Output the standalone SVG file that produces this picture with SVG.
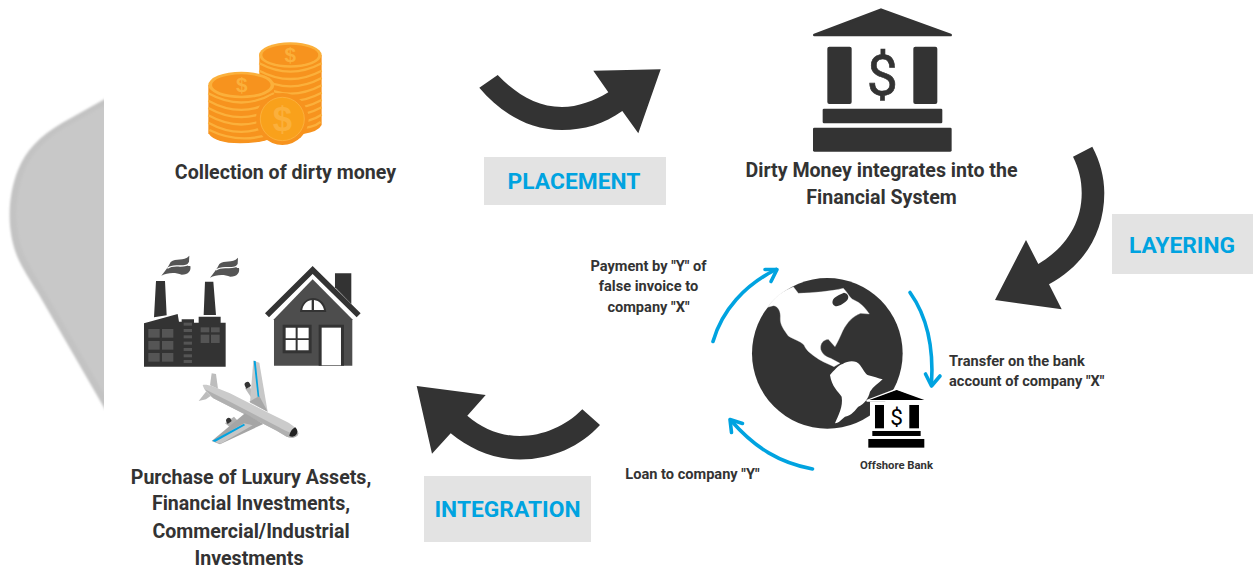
<svg xmlns="http://www.w3.org/2000/svg" width="1253" height="572" viewBox="0 0 1253 572">
<defs>
<filter id="soft" x="-10%" y="-10%" width="120%" height="120%"><feGaussianBlur stdDeviation="1.200"/></filter>
<clipPath id="trayclip"><rect x="0" y="80" width="104" height="340"/></clipPath>
</defs>
<style>
text{font-family:Roboto,"Liberation Sans",sans-serif;font-weight:700;fill:#333;text-anchor:middle}
.t{font-size:19.6px}
.s{font-size:14.600px}
.l{text-anchor:start}
.b{font-size:22.800px;fill:#00a3e0}
.box{fill:#e3e3e3}
.big{fill:#333}
.blue{fill:none;stroke:#00a3e0;stroke-width:3.6;stroke-linecap:round;stroke-linejoin:round}
.d{fill:#333}
.w{fill:#555}
.c1{fill:#f7931e}
.c3{fill:#f9a11b}
.rim{fill:none;stroke:#fbb03b;stroke-width:7}
.dl{font-family:"Liberation Sans",sans-serif;font-weight:700}
</style>

<g id="tray-shape" clip-path="url(#trayclip)">
<path d="M110 96L62 123C40 136 26 150 18 170C8 195 6 228 17 256C22 268 30 280 38 293L110 418Z" fill="#c3c3c3" filter="url(#soft)"/>
<path d="M110 102L66 127C46 139 31 153 24 172C15 196 13 226 23 252C28 264 36 277 44 290L110 404Z" fill="#c8c8c8" filter="url(#soft)"/>
</g>

<g id="coins" transform="translate(190 30) scale(.3333)">
<path class="c1" d="M208 75H395V285Q385 305 340 312H208Z"/>
<g class="rim">
<path d="M208 100Q301 150 395 100"/><path d="M208 122Q301 172 395 122"/><path d="M208 144Q301 194 395 144"/><path d="M208 166Q301 216 395 166"/><path d="M208 188Q301 238 395 188"/><path d="M208 210Q301 260 395 210"/><path d="M208 232Q301 282 395 232"/><path d="M250 270Q340 290 395 254"/><path d="M320 295Q370 295 392 276"/>
</g>
<ellipse cx="301" cy="75" rx="94" ry="38" fill="#fbb03b"/>
<ellipse class="c1" cx="301" cy="75" rx="84" ry="31"/>
<text class="dl" x="301" y="97" font-size="62" style="fill:#fbb03b">$</text>
<path class="c1" d="M55 165H252V320Q220 340 150 340Q75 340 55 310Z"/>
<g class="rim">
<path d="M55 190Q154 245 252 190"/><path d="M55 212Q154 267 252 212"/><path d="M55 234Q154 289 252 234"/><path d="M55 256Q154 311 252 256"/><path d="M55 278Q154 333 252 278"/><path d="M58 300Q150 345 245 310"/>
</g>
<ellipse cx="154" cy="165" rx="99" ry="40" fill="#fbb03b"/>
<ellipse class="c1" cx="154" cy="165" rx="88" ry="32"/>
<text class="dl" x="155" y="187" font-size="62" style="fill:#fbb03b">$</text>
<ellipse class="c1" cx="277" cy="267" rx="79" ry="78"/>
<ellipse class="c3" cx="277" cy="267" rx="66" ry="65" stroke="#fbb03b" stroke-width="3"/>
<text class="dl" x="277" y="304" font-size="104" style="fill:#fbb03b">$</text>
</g>

<g id="collection-label"><text class="t" x="285.500" y="179">Collection of dirty money</text></g>

<g id="bank" transform="translate(800 0) scale(.3333)">
<path class="d" stroke="#333" stroke-width="8" stroke-linejoin="round" d="M43 105L243 29L452 105Z"/>
<rect class="d" x="82" y="140" width="73" height="172" rx="6"/>
<rect class="d" x="340" y="140" width="72" height="172" rx="6"/>
<rect class="d" x="68" y="326" width="359" height="44" rx="4"/>
<rect class="d" x="39" y="383" width="416" height="72" rx="4"/>
<text x="247" y="284" font-size="166" style="font-family:Roboto,sans-serif;font-weight:400" stroke="#333" stroke-width="2">$</text>
</g>

<g id="financial-label"><text class="t" x="881.500" y="177">Dirty Money integrates into the</text><text class="t" x="881.500" y="204">Financial System</text></g>

<g id="placement-box"><rect class="box" x="484" y="157" width="182" height="48"/><text class="b" x="574" y="189">PLACEMENT</text></g>
<g id="layering-box"><rect class="box" x="1112" y="214" width="141" height="60"/><text class="b" x="1182" y="253">LAYERING</text></g>
<g id="integration-box"><rect class="box" x="424" y="476" width="167" height="66"/><text class="b" x="507.500" y="517">INTEGRATION</text></g>

<g id="connectors">
<path class="big" d="M479.300 87.700L497.700 75C516 94 537 107 562 107C578 107 594 101 608.300 92.300L593.300 70.700L660.700 69.300L638.300 133.300L622.300 111C604 124 584 130 562 130C527 130 500 112 479.300 87.700Z"/>
<path class="big" d="M1092.300 146.700L1073 156.700C1079 169 1081.700 180 1081.700 193C1081.700 224 1065 248 1038.300 264L1026 240L995 300L1061.700 309.300L1049 284.300C1083 266 1104.300 234 1104.300 193C1104.300 177 1100 161 1092.300 146.700Z"/>
<path class="big" d="M582.300 409.300L600 425C581 446 552 459.500 520 459.500C493 459.500 470 449 450.700 433.300L432 453.700L416.700 386L485.700 395L467.300 415.700C483 429 500 436 520 436C543 436 566 426 582.300 409.300Z"/>
<g class="blue">
<path d="M713 341.500C722 310 745 285 776 269.500"/><path d="M765 269.500L777 269.500L771 281.500"/>
<path d="M910 292.500C926 315 934 345 931.500 384"/><path d="M925.500 374L931.500 386L940 376"/>
<path d="M812.500 469C780 463 755 448 731.500 421"/><path d="M742.500 423.500L730 419.500L731.500 432.500"/>
</g>
</g>

<g id="globe" transform="translate(700 250) scale(.3333)">
<circle cx="382" cy="310" r="226" fill="#333"/>
<path fill="#fff" stroke="#e8e8e8" stroke-width="1" d="M203 172C222 142 250 122 280 110L295 130C340 128 390 125 430 115C445 130 450 146 462 150C482 158 498 176 508 192L482 190C458 200 443 215 428 243C420 262 412 278 405 290L385 268C370 270 360 280 362 298C366 312 380 322 392 325L420 340L402 350C380 340 360 332 345 320C328 308 318 300 312 285C300 272 280 268 265 258C252 240 240 225 241 205C243 185 235 168 220 167Z"/>
<path class="d" d="M398 152C402 140 420 134 432 128C445 130 448 142 442 150C435 158 415 172 405 168C398 165 396 158 398 152Z"/>
<path fill="#fff" d="M390 375C402 362 415 345 428 342C445 332 468 330 480 345C490 358 495 372 505 376C520 380 535 385 548 388C535 400 520 410 510 425C505 445 495 460 475 470C465 480 458 495 435 500C425 508 418 518 405 520C415 495 430 470 425 440C415 425 395 410 390 375Z"/>
</g>

<g id="offshore-bank" transform="translate(700 250) scale(.3333)">
<path fill="#000" stroke="#fff" stroke-width="6" stroke-linejoin="round" d="M502 452L590 418L678 452Z"/>
<rect x="510" y="455" width="160" height="145" fill="#fff"/>
<path fill="#000" d="M508 450L590 420L673 450Z"/>
<rect x="525" y="465" width="27" height="70"/>
<rect x="628" y="465" width="29" height="70"/>
<rect x="517" y="543" width="145" height="15"/>
<rect x="505" y="567" width="168" height="26"/>
<text x="590" y="526" font-size="68" style="font-family:Roboto,sans-serif;font-weight:400;fill:#000">$</text>
</g>

<g id="offshore-label"><text x="896.500" y="469" font-size="11.300">Offshore Bank</text></g>
<g id="payment-label"><text class="s" x="648.500" y="271">Payment by "Y" of</text><text class="s" x="648.500" y="291">false invoice to</text><text class="s" x="648.500" y="312">company "X"</text></g>
<g id="transfer-label"><text class="s l" x="949" y="366">Transfer on the bank</text><text class="s l" x="949" y="386">account of company "X"</text></g>
<g id="loan-label"><text class="s" x="692.500" y="479">Loan to company "Y"</text></g>

<g id="factory" transform="translate(130 240) scale(.3333)">
<path class="d" d="M78 123H105L110 226L72 232ZM225 125H250L258 225H221Z"/>
<path class="d" d="M42 250L143 222L147 245H155V238H192V248H206V230H272V248H287V380H42Z"/>
<g class="w">
<rect x="55" y="267" width="34" height="26"/><rect x="96" y="267" width="34" height="26"/><rect x="55" y="303" width="34" height="26"/><rect x="96" y="303" width="34" height="26"/><rect x="55" y="339" width="34" height="26"/><rect x="96" y="339" width="34" height="26"/>
<rect x="212" y="262" width="26" height="15"/><rect x="243" y="262" width="26" height="15"/><rect x="212" y="284" width="26" height="25"/><rect x="243" y="284" width="26" height="25"/>
<rect x="161" y="248" width="25" height="9"/><rect x="161" y="267" width="25" height="9"/><rect x="161" y="286" width="25" height="9"/><rect x="161" y="305" width="25" height="9"/><rect x="161" y="324" width="25" height="9"/><rect x="161" y="343" width="25" height="9"/><rect x="161" y="360" width="25" height="9"/>
<path d="M94 107C106 92 114 82 122 66C138 52 160 66 178 47L177 66C170 72 172 80 181 78C184 92 176 104 155 104C135 96 112 98 94 107Z"/>
<path d="M240 113C252 98 260 88 268 72C284 58 306 72 324 53L323 72C316 78 318 86 327 84C330 98 322 110 301 110C281 102 258 104 240 113Z"/>
</g>
<g fill="none" stroke="#fff" stroke-width="4">
<path d="M112 85C135 68 155 88 182 70"/><path d="M258 90C281 73 301 93 328 75"/>
</g>
</g>

<g id="house" transform="translate(130 240) scale(.3333)">
<path fill="#333" d="M615 100H664V192L615 142Z"/>
<path fill="#4d4d4d" d="M432 238L548 118L667 238V377H432Z"/>
<path fill="none" stroke="#333" stroke-width="17" d="M411 226L548 90L686 226"/>
<path fill="#333" d="M566 254H642V377H566ZM458 254H545V340H458Z"/>
<rect x="575" y="263" width="58" height="113" fill="#fff"/>
<path fill="#fff" d="M467 263H497V295H467ZM503 263H536V295H503ZM467 300H497V331H467ZM503 300H536V331H503Z"/>
<path fill="#333" d="M510 216C512 190 530 174 549 174C570 174 587 190 589 216Z"/>
<path fill="#fff" d="M517 210C519 194 530 182 545 180V210ZM552 180C568 182 579 194 582 210H552Z"/>
</g>

<g id="plane" transform="translate(130 240) scale(.3333)">
<path fill="#bbb" d="M345 445L360 440L372 470L362 470Z"/>
<path fill="#333" d="M345 438a8 8 0 0 1 14 -8l4 8l-14 8Z"/>
<path fill="#b0b0b0" d="M285 550L312 530L330 550L300 562Z"/>
<path fill="#333" d="M289 545a8 8 0 0 1 12 -10l4 8l-12 9Z"/>
<path fill="#c8c8c8" d="M370 362L388 368L413 515L360 488Z"/>
<path fill="#a8a8a8" d="M358 485L388 468L413 515Z"/>
<path fill="#00a3e0" d="M371 362L377 363L388 470L383 470Z"/>
<path fill="#bdbdbd" d="M245 400L258 402L264 446L240 436Z"/>
<path fill="#bdbdbd" d="M206 483L232 450L250 462L228 478Z"/>
<path fill="#cbcbcb" d="M218 435C230 432 250 438 300 460L415 518L470 545C490 556 500 566 505 578C506 590 490 598 470 590L440 572L250 475C235 464 222 450 218 435Z"/>
<path fill="#b0b0b0" d="M225 448L250 475L440 572L470 590C490 598 506 590 505 578C490 585 470 575 440 558L300 485Z"/>
<path fill="#a5a5a5" d="M345 520L400 552L270 613L245 603Z"/>
<path fill="#c6c6c6" d="M342 550L368 556L272 611L248 604Z"/>
<path fill="#00a3e0" d="M247 602L342 551L345 556L255 606Z"/>
<path fill="#222" d="M478 588C480 575 488 565 496 562C503 570 505 578 497 586C490 592 484 590 478 588Z"/>
</g>

<g id="assets-label"><text class="t" x="251" y="484">Purchase of Luxury Assets,</text><text class="t" x="251" y="510">Financial Investments,</text><text class="t" x="251" y="538">Commercial/Industrial</text><text class="t" x="249" y="565">Investments</text></g>
</svg>
